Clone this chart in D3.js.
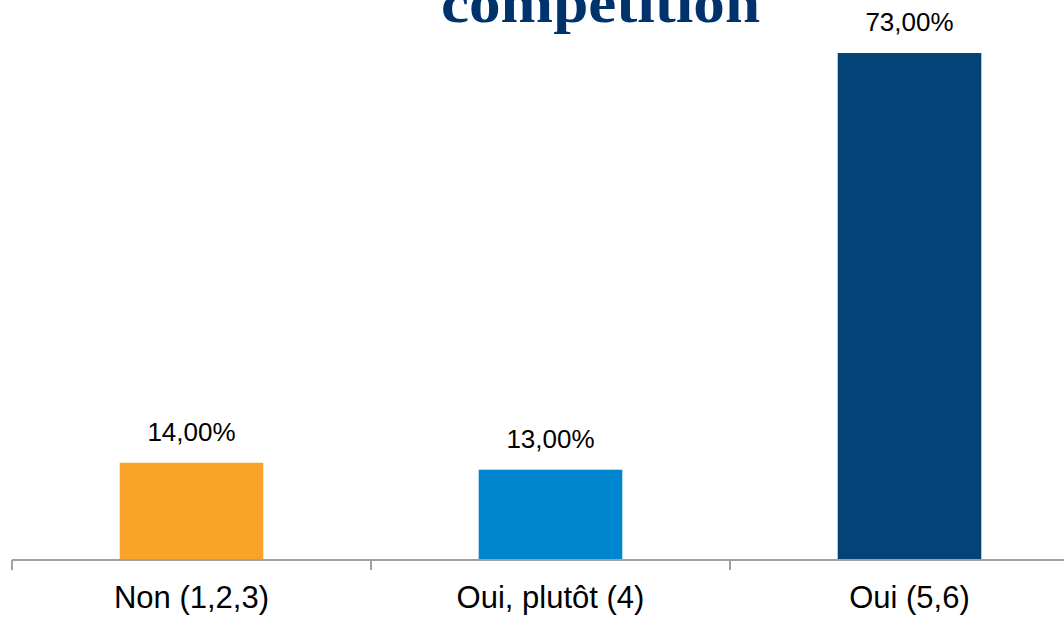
<!DOCTYPE html>
<html><head><meta charset="utf-8">
<script src="https://cdn.jsdelivr.net/npm/d3@7"></script>
<style>html,body{margin:0;padding:0;background:#fff;overflow:hidden}</style>
</head><body>
<svg id="c" width="1064" height="618"></svg>
<script>
const categories = ["Non (1,2,3)", "Oui, plutôt (4)", "Oui (5,6)"];
const values = [14, 13, 73];
const valueLabels = ["14,00%", "13,00%", "73,00%"];
const colors = ["#F7A428", "#0085CF", "#034378"];
const titleText = "compétition";

const svg = d3.select("#c");
const x = d3.scaleBand().domain(categories).range([12, 1089]).paddingInner(0.6).paddingOuter(0.3);
const y = d3.scaleLinear().domain([0, 80]).range([560, 560 - 80 * 6.945]);

svg.append("text").attr("x", 600.5).attr("y", 22).attr("text-anchor", "middle")
  .attr("font-family", "Liberation Serif").attr("font-weight", "bold").attr("font-size", 56)
  .attr("textLength", 319).attr("lengthAdjust", "spacingAndGlyphs")
  .attr("fill", "#00336B").text(titleText);

svg.selectAll("rect.bar").data(values).join("rect").attr("class", "bar")
  .attr("x", (d, i) => x(categories[i])).attr("width", x.bandwidth())
  .attr("y", d => y(d)).attr("height", d => y(0) - y(d))
  .attr("fill", (d, i) => colors[i]);

svg.selectAll("text.val").data(values).join("text").attr("class", "val")
  .attr("x", (d, i) => x(categories[i]) + x.bandwidth() / 2).attr("y", d => y(d) - 22)
  .attr("text-anchor", "middle").attr("font-family", "Liberation Sans").attr("font-size", 26)
  .attr("fill", "#000").text((d, i) => valueLabels[i]);

const g = svg.append("g").attr("transform", "translate(0,560)");
g.append("line").attr("x1", 12).attr("x2", 1089).attr("stroke", "#A0A0A0").attr("stroke-width", 2);
const step = x.step();
const bounds = [0, 1, 2, 3].map(i => 12 + i * step);
g.selectAll("line.tk").data(bounds).join("line").attr("class", "tk")
  .attr("x1", d => d).attr("x2", d => d).attr("y1", 0).attr("y2", 10)
  .attr("stroke", "#A0A0A0").attr("stroke-width", 2);
g.selectAll("text.cat").data(categories).join("text").attr("class", "cat")
  .attr("x", d => x(d) + x.bandwidth() / 2).attr("y", 48)
  .attr("text-anchor", "middle").attr("font-family", "Liberation Sans").attr("font-size", 31)
  .attr("fill", "#000").text(d => d);
</script>
</body></html>
